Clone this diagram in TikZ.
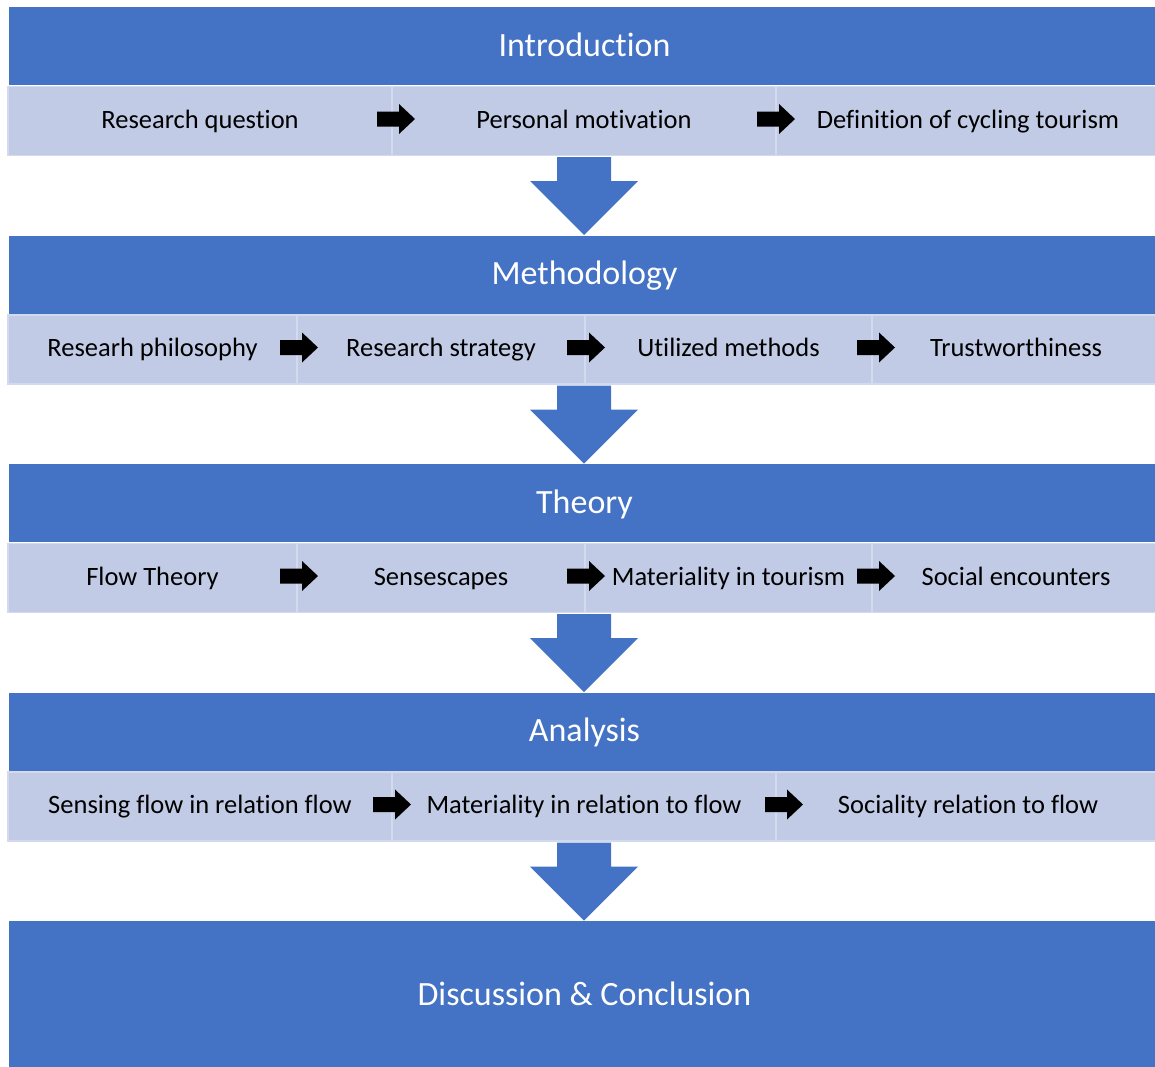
\documentclass[tikz,border=0pt]{standalone}
\usepackage{fontspec}
\setmainfont{Carlito}[Ligatures=NoCommon]
\definecolor{barblue}{HTML}{4472C4}
\definecolor{cellfill}{HTML}{C1CBE5}
\definecolor{cellline}{HTML}{D3DAEE}
\newcommand\blkarr[2]{\fill[black] (#1,#2-7.5) -- (#1+22,#2-7.5) -- (#1+22,#2-15) -- (#1+38,#2) -- (#1+22,#2+15) -- (#1+22,#2+7.5) -- (#1,#2+7.5) -- cycle;}
\newcommand\downarr[1]{\fill[barblue] (557,#1) -- (611,#1) -- (611,#1+24) -- (638,#1+24) -- (584,#1+78) -- (530,#1+24) -- (557,#1+24) -- cycle;}
\begin{document}
\begin{tikzpicture}[x=1pt,y=-1pt,
  barbox/.style={fill=barblue, text=white, font=\fontsize{34}{40}\selectfont, inner sep=0pt, outer sep=0pt, anchor=north west, minimum width=1151pt, minimum height=78pt, text height=27pt, text depth=7pt},
  cellbox/.style={fill=cellfill, draw=cellline, line width=1.5pt, font=\fontsize{26.5}{30}\selectfont, inner sep=0pt, outer sep=0pt, anchor=north west, minimum height=69pt, text height=20pt, text depth=6pt}]
\useasboundingbox (0,0) rectangle (1155,1066);
\clip (0,0) rectangle (1155,1066);
% Introduction
\node[barbox] (t1) at (9,7) {Introduction};
\node[cellbox, minimum width=384pt] (c11) at (8,86.5) {Research question};
\node[cellbox, minimum width=384pt] (c12) at (392,86.5) {Personal motivation};
\node[cellbox, minimum width=384pt] (c13) at (776,86.5) {Definition of cycling tourism};
\blkarr{377}{119}
\blkarr{757}{119}
\downarr{157}
% Methodology
\node[barbox] (t2) at (9,235.5) {Methodology};
\node[cellbox, minimum width=289pt] (c21) at (8,315) {Researh philosophy};
\node[cellbox, minimum width=288pt] (c22) at (297,315) {Research strategy};
\node[cellbox, minimum width=287pt] (c23) at (585,315) {Utilized methods};
\node[cellbox, minimum width=288pt] (c24) at (872,315) {Trustworthiness};
\blkarr{280}{347.5}
\blkarr{567}{347.5}
\blkarr{857}{347.5}
\downarr{385.5}
% Theory
\node[barbox] (t3) at (9,464) {Theory};
\node[cellbox, minimum width=289pt] (c31) at (8,543.5) {Flow Theory};
\node[cellbox, minimum width=288pt] (c32) at (297,543.5) {Sensescapes};
\node[cellbox, minimum width=287pt] (c33) at (585,543.5) {Materiality in tourism};
\node[cellbox, minimum width=288pt] (c34) at (872,543.5) {Social encounters};
\blkarr{280}{576}
\blkarr{567}{576}
\blkarr{857}{576}
\downarr{614}
% Analysis
\node[barbox] (t4) at (9,692.5) {Analysis};
\node[cellbox, minimum width=384pt] (c41) at (8,772) {Sensing flow in relation flow};
\node[cellbox, minimum width=384pt] (c42) at (392,772) {Materiality in relation to flow};
\node[cellbox, minimum width=384pt] (c43) at (776,772) {Sociality relation to flow};
\blkarr{373}{804.5}
\blkarr{765}{804.5}
\downarr{842.5}
% Conclusion
\node[barbox, minimum height=148pt] (t5) at (9,921) {Discussion \& Conclusion};
\end{tikzpicture}
\end{document}
